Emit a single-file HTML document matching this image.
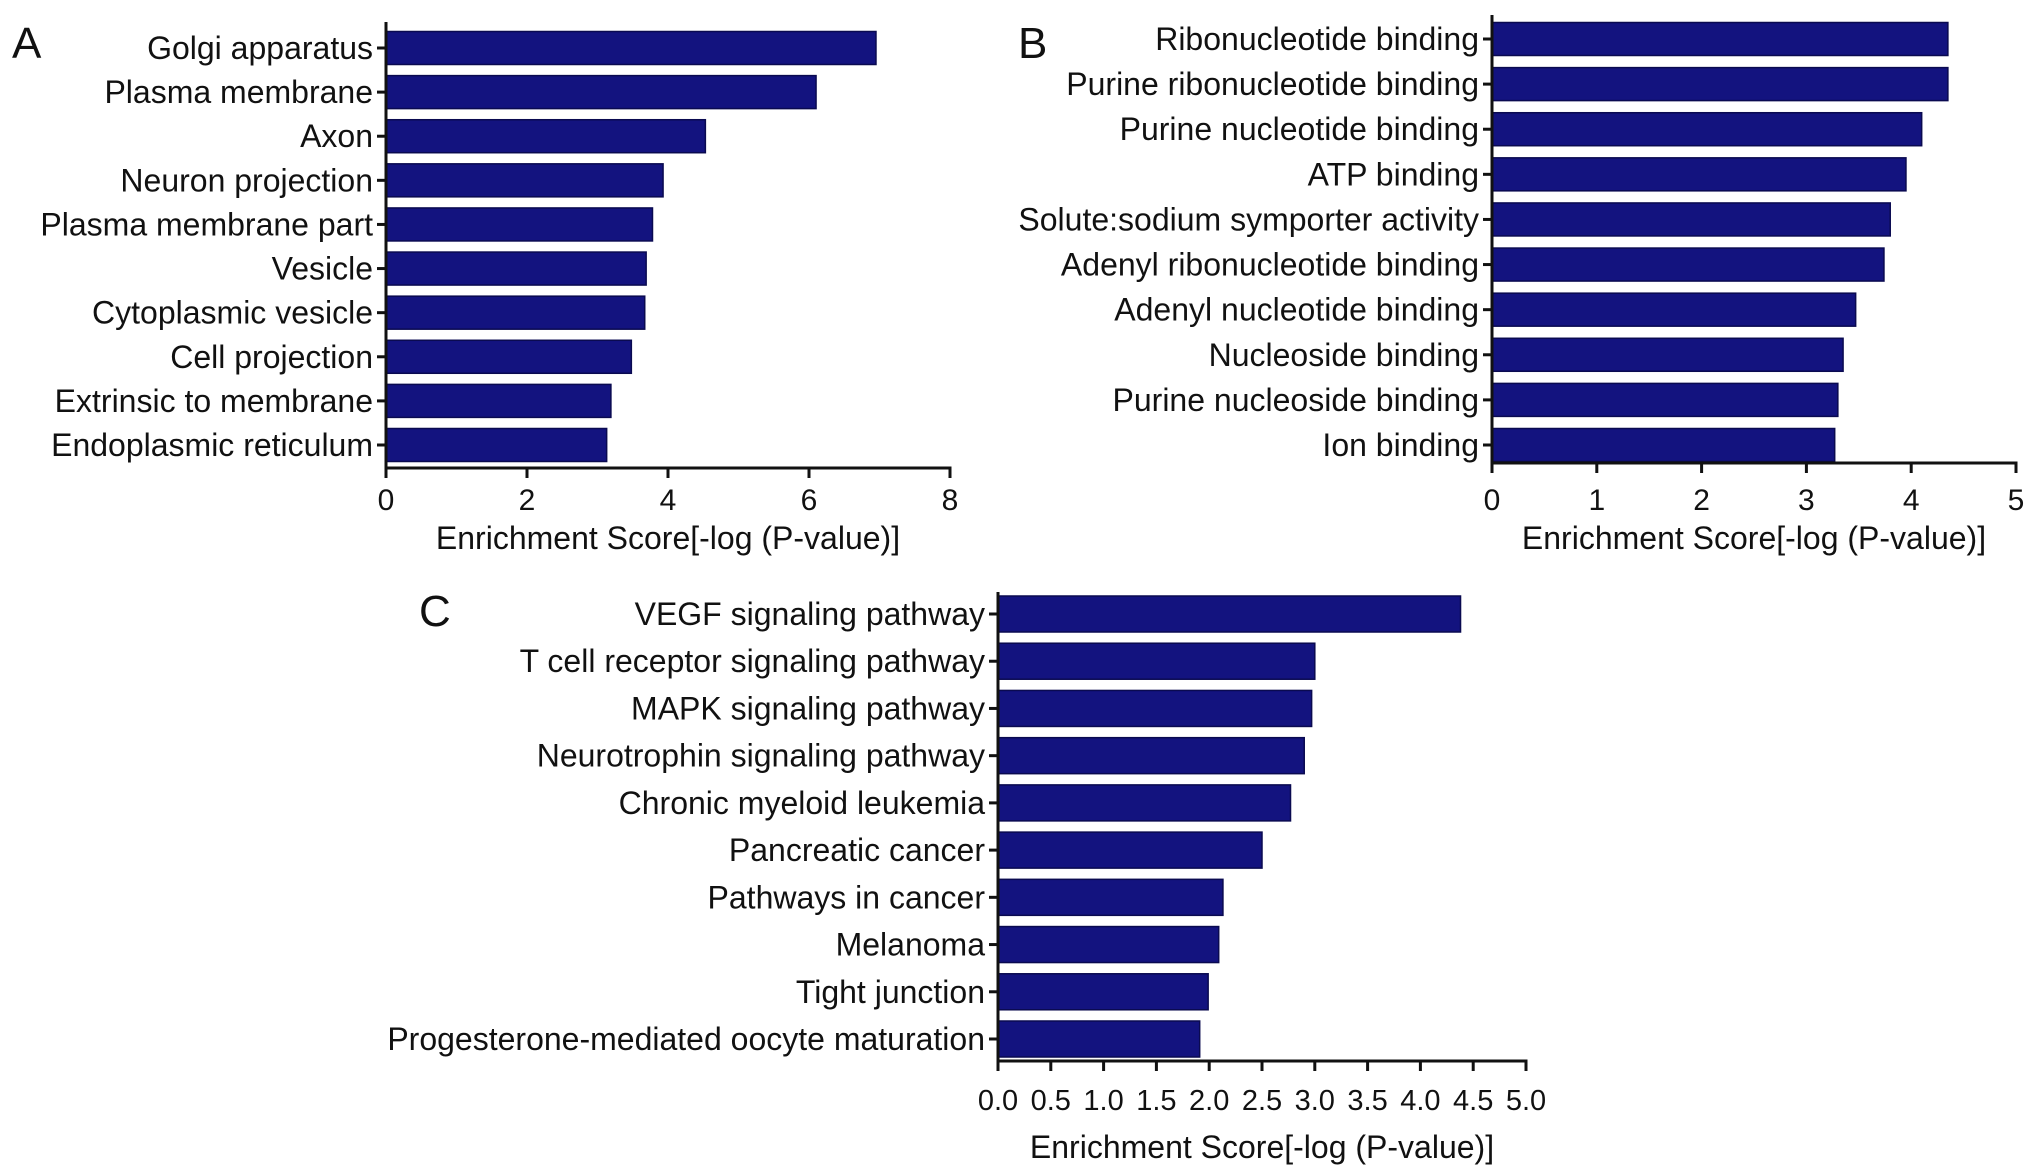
<!DOCTYPE html>
<html><head><meta charset="utf-8">
<style>
html,body{margin:0;padding:0;background:#fff;}
svg{display:block;font-family:"Liberation Sans",sans-serif;}
</style></head>
<body>
<svg id="chart" width="2032" height="1174" viewBox="0 0 2032 1174" xmlns="http://www.w3.org/2000/svg">
<text x="12" y="58" font-size="44" fill="#111">A</text>
<text x="1018" y="58" font-size="44" fill="#111">B</text>
<text x="419" y="626" font-size="44" fill="#111">C</text>
</svg>
<script>
const catsA = ["Golgi apparatus","Plasma membrane","Axon","Neuron projection","Plasma membrane part","Vesicle","Cytoplasmic vesicle","Cell projection","Extrinsic to membrane","Endoplasmic reticulum"];
const valsA = [6.95,6.1,4.53,3.93,3.78,3.69,3.67,3.48,3.19,3.13];
const ticksA = ["0","2","4","6","8"];
const catsB = ["Ribonucleotide binding","Purine ribonucleotide binding","Purine nucleotide binding","ATP binding","Solute:sodium symporter activity","Adenyl ribonucleotide binding","Adenyl nucleotide binding","Nucleoside binding","Purine nucleoside binding","Ion binding"];
const valsB = [4.35,4.35,4.1,3.95,3.8,3.74,3.47,3.35,3.3,3.27];
const ticksB = ["0","1","2","3","4","5"];
const catsC = ["VEGF signaling pathway","T cell receptor signaling pathway","MAPK signaling pathway","Neurotrophin signaling pathway","Chronic myeloid leukemia","Pancreatic cancer","Pathways in cancer","Melanoma","Tight junction","Progesterone-mediated oocyte maturation"];
const valsC = [4.38,3.0,2.97,2.9,2.77,2.5,2.13,2.09,1.99,1.91];
const ticksC = ["0.0","0.5","1.0","1.5","2.0","2.5","3.0","3.5","4.0","4.5","5.0"];

const NS = "http://www.w3.org/2000/svg";
const svg = document.getElementById('chart');
function mk(tag, attrs, parent){
  const e = document.createElementNS(NS, tag);
  for (const k in attrs) e.setAttribute(k, attrs[k]);
  (parent||svg).appendChild(e);
  return e;
}
function panel(id, cats, vals, ticks, cfg){
  const g = mk('g', {});
  
  
  const maxV = parseFloat(ticks[ticks.length-1]);
  const xs = v => cfg.x0 + (cfg.x1 - cfg.x0) * v / maxV;
  const pitch = (cfg.cLast - cfg.cFirst) / (cats.length - 1);
  const ys = i => cfg.cFirst + i * pitch;
  cats.forEach((c, i) => {
    const y = ys(i);
    const r = mk('rect', {x: xs(0), y: y - cfg.bh/2, width: xs(vals[i]) - xs(0), height: cfg.bh, fill: '#13137f', stroke: '#0a0a50', 'stroke-width': 1.5}, g);
    
    
    mk('line', {x1: xs(0) - 9, x2: xs(0), y1: y, y2: y, stroke: '#111', 'stroke-width': 3}, g);
    const t = mk('text', {x: xs(0) - 13, y: y + 11, 'font-size': cfg.fs, 'text-anchor': 'end', fill: '#111'}, g);
    t.textContent = c;
    
    
  });
  const ya = mk('line', {x1: xs(0), x2: xs(0), y1: cfg.top, y2: cfg.base + 1.5, stroke: '#111', 'stroke-width': 3}, g);
  
  
  const xa = mk('line', {x1: xs(0) - 1.5, x2: xs(maxV) + 1.5, y1: cfg.base, y2: cfg.base, stroke: '#111', 'stroke-width': 3}, g);
  
  
  ticks.forEach((tk, i) => {
    const v = parseFloat(tk);
    mk('line', {x1: xs(v), x2: xs(v), y1: cfg.base, y2: cfg.base + 10, stroke: '#111', 'stroke-width': 3}, g);
    const t = mk('text', {x: xs(v), y: cfg.tickY, 'font-size': cfg.tfs, 'text-anchor': 'middle', fill: '#111'}, g);
    t.textContent = tk;
    
    
  });
  const tt = mk('text', {x: (xs(0) + xs(maxV)) / 2 + cfg.titleDx, y: cfg.titleY, 'font-size': cfg.fs, 'text-anchor': 'middle', fill: '#111'}, g);
  tt.textContent = 'Enrichment Score[-log (P-value)]';
  
  
}
panel('a', catsA, valsA, ticksA, {x0: 386, x1: 950, cFirst: 48, cLast: 445, bh: 33, top: 22, base: 468, tickY: 510, titleY: 549, titleDx: 0, fs: 32, tfs: 30});
panel('b', catsB, valsB, ticksB, {x0: 1492, x1: 2016, cFirst: 39, cLast: 445, bh: 33, top: 15, base: 463, tickY: 510, titleY: 549, titleDx: 0, fs: 32, tfs: 30});
panel('c', catsC, valsC, ticksC, {x0: 998, x1: 1526, cFirst: 614, cLast: 1039, bh: 36, top: 592, base: 1061, tickY: 1110, titleY: 1158, titleDx: 0, fs: 32, tfs: 29});
</script>
</body></html>
